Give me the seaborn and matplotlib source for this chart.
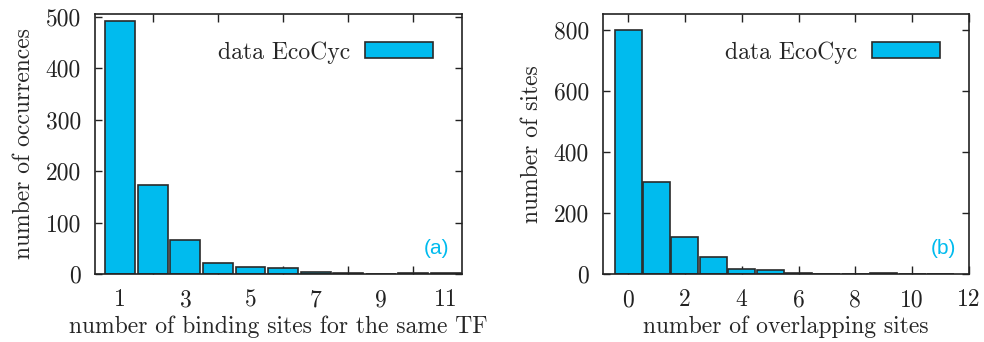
import matplotlib
matplotlib.use("Agg")
import matplotlib.pyplot as plt
import seaborn as sns
import numpy as np
import pandas as pd

# data
a_x = [1, 2, 3, 4, 5, 6, 7, 8, 9, 10, 11]
a_counts = [491, 172, 67, 22, 14, 11, 3, 1, 0, 2, 1]
b_x = [0, 1, 2, 3, 4, 5, 6, 7, 8, 9, 10, 11]
b_counts = [800, 302, 121, 56, 15, 12, 3, 1, 0, 4, 1, 1]
a_label_ticks = [1, 3, 5, 7, 9, 11]
a_mark_ticks = [2, 4, 6, 8, 10]
b_ticks = [0, 2, 4, 6, 8, 10, 12]
a_yticks = [0, 100, 200, 300, 400, 500]
b_yticks = [0, 200, 400, 600, 800]

sns.set_theme(style="ticks")
plt.rcParams['font.family'] = ['cmr10', 'DejaVu Serif']
plt.rcParams['axes.unicode_minus'] = False
plt.rcParams['axes.formatter.use_mathtext'] = False

FILL = '#00BBEE'
EDGE = '#2a2a2a'
FS = 17

fig = plt.figure(figsize=(9.84, 3.42), dpi=100)
ax1 = fig.add_axes([95/984, 68/342, 367/984, 260/342])
ax2 = fig.add_axes([603/984, 68/342, 366/984, 260/342])

dfa = pd.DataFrame({'x': a_x, 'y': a_counts})
dfb = pd.DataFrame({'x': b_x, 'y': b_counts})

sns.barplot(data=dfa, x='x', y='y', native_scale=True, width=0.92, color=FILL,
            edgecolor=EDGE, linewidth=1.2, saturation=1, label='data EcoCyc', ax=ax1)
sns.barplot(data=dfb, x='x', y='y', native_scale=True, width=0.95, color=FILL,
            edgecolor=EDGE, linewidth=1.2, saturation=1, label='data EcoCyc', ax=ax2)

for ax in (ax1, ax2):
    for s in ax.spines.values():
        s.set_visible(True)
        s.set_linewidth(1.2)
        s.set_color('#222222')
        s.set_zorder(5)
    ax.tick_params(which='both', direction='in', top=True, right=True,
                   labelsize=FS, colors='#222222', width=1.0)
    ax.tick_params(axis='y', which='major', length=5, pad=10)
    ax.yaxis.set_minor_locator(matplotlib.ticker.NullLocator())

# left panel
ax1.set_xlim(0.22, 11.5)
ax1.set_ylim(0, 505)
ax1.set_xticks(a_label_ticks)
ax1.set_xticks(a_mark_ticks, minor=True)
ax1.tick_params(axis='x', which='major', length=0, pad=11)
ax1.tick_params(axis='x', which='minor', length=6, top=True, bottom=True, direction='in')
ax1.set_yticks(a_yticks)
ax1.set_xlabel('number of binding sites for the same TF', fontsize=FS, labelpad=3)
ax1.set_ylabel('number of occurrences', fontsize=FS, labelpad=8)
ax1.text(0.965, 0.1, '(a)', transform=ax1.transAxes, ha='right', va='center',
         color=FILL, fontsize=15, family='Liberation Sans')

# right panel
ax2.set_xlim(-0.88, 12)
ax2.set_ylim(0, 852)
ax2.set_xticks(b_ticks)
ax2.tick_params(axis='x', which='major', length=6, pad=11)
ax2.set_yticks(b_yticks)
ax2.set_xlabel('number of overlapping sites', fontsize=FS, labelpad=3)
ax2.set_ylabel('number of sites', fontsize=FS, labelpad=8)
ax2.text(0.965, 0.1, '(b)', transform=ax2.transAxes, ha='right', va='center',
         color=FILL, fontsize=15, family='Liberation Sans')

for ax in (ax1, ax2):
    leg = ax.legend(loc='upper right', bbox_to_anchor=(0.96, 0.95), frameon=False,
                    markerfirst=False, fontsize=FS, handlelength=2.9, handleheight=0.65,
                    handletextpad=0.6, borderaxespad=0.2)

fig.savefig('out.png', dpi=100)
